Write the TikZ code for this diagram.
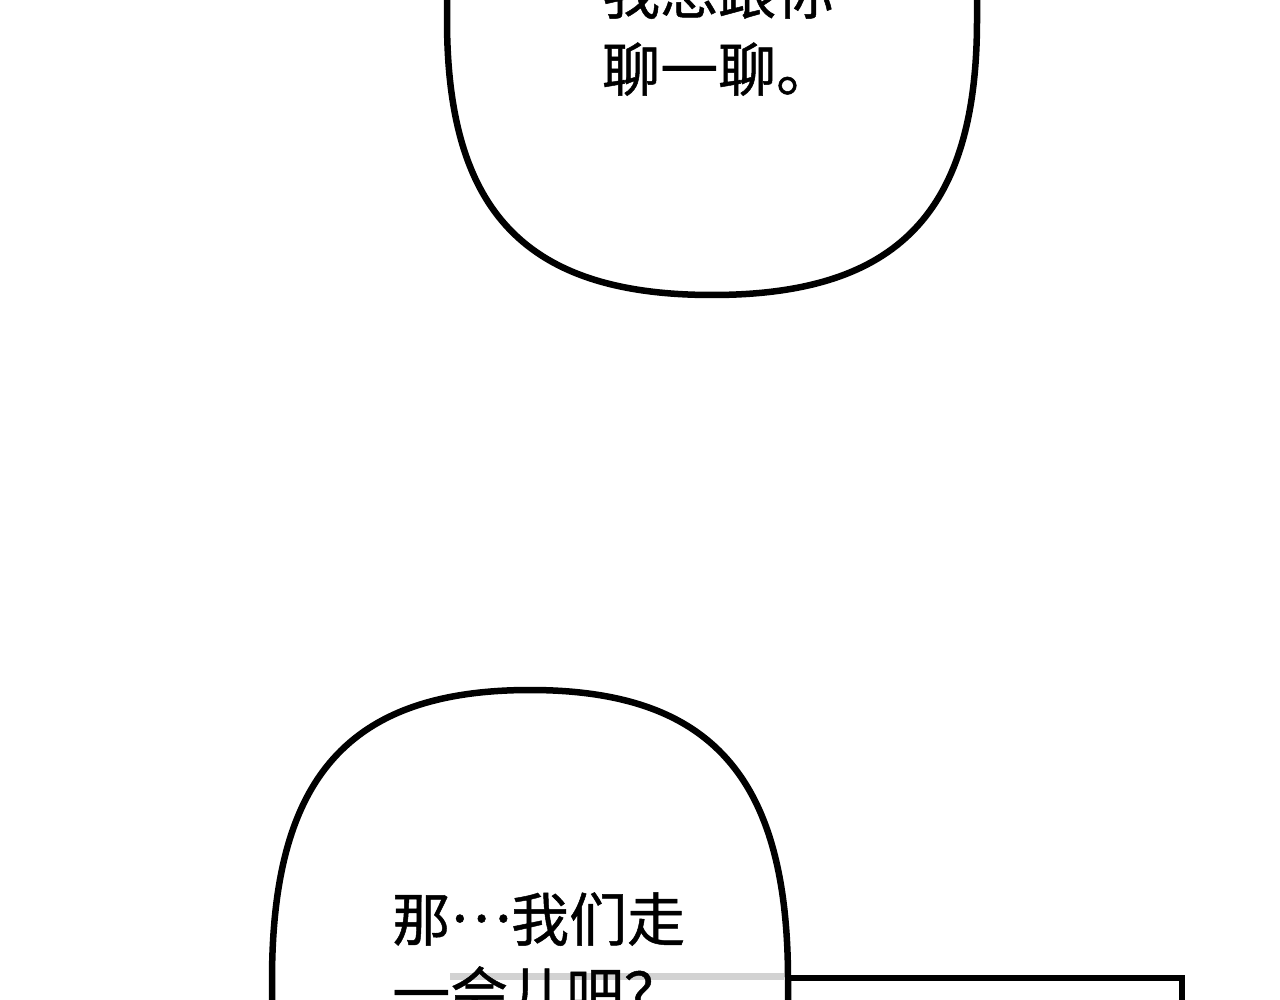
\documentclass[tikz,border=0pt]{standalone}
\usepackage{fontspec}
\newfontfamily\cjk[FakeBold=0.8]{Noto Sans CJK SC}
\usepackage{tikz}

\begin{document}
\begin{tikzpicture}[x=1pt,y=-1pt,
  bubble/.style={draw=black,fill=white,line width=6.5pt},
  say/.style={anchor=base west,inner sep=0pt,font=\cjk\fontsize{58}{70}\selectfont}]
\useasboundingbox (0,0) rectangle (1280,1000);
\clip (0,0) rectangle (1280,1000);
% panel behind the lower bubble
\draw[line width=6.5pt] (700,978) -- (1182,978) -- (1182,1100);
% upper bubble
\draw[bubble] (447,-100) -- (447,20) .. controls (447,212) and (526,295) .. (712,295)
  .. controls (898,295) and (977,212) .. (977,20) -- (977,-100) -- cycle;
% lower bubble
\draw[bubble] (530,690) .. controls (711,690) and (788,777) .. (788,980) -- (788,1100)
  -- (272,1100) -- (272,980) .. controls (272,777) and (349,690) .. (530,690) -- cycle;
\draw[line width=7pt,gray!35] (450,976) -- (784,976);
% texts
\node[say] (ask1) at (602,14) {我想跟你};
\node[say] (ask2) at (602,91) {聊一聊。};
\node[say] (walk1) at (392,941) {那\makebox[1.05em]{\raisebox{0.33em}{…}}我们走};
\node[say] (walk2) at (392,1015) {一会儿吧？};
\end{tikzpicture}
\end{document}
